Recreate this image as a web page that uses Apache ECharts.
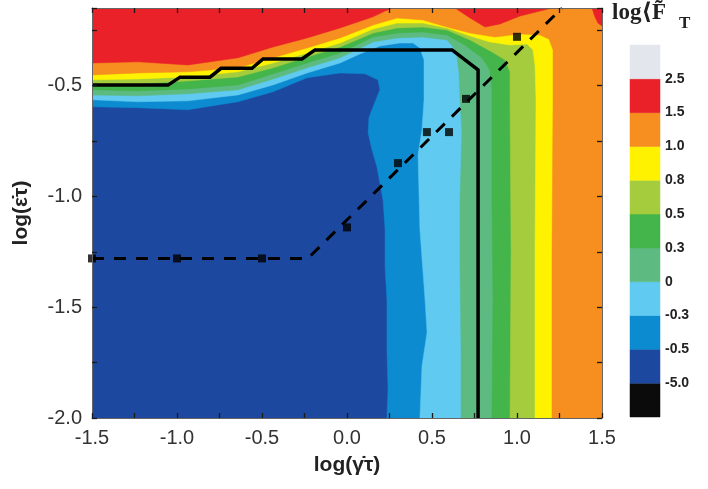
<!DOCTYPE html>
<html><head><meta charset="utf-8">
<script src="https://cdn.jsdelivr.net/npm/echarts@6/dist/echarts.min.js"></script>
<style>html,body{margin:0;padding:0;background:#fff}#c{width:708px;height:489px}</style>
</head><body><div id="c"></div>
<script>
// ---------- data ----------
const xRange = [-1.5, 1.5];
const yRange = [-2.0, -0.15];
const levelLabels = ['-5.0', '-0.5', '-0.3', '0', '0.3', '0.5', '0.8', '1.0', '1.5', '2.5'];

// contour boundaries, from left edge round to bottom edge
const contourM05 = [[-1.5,-0.596],[-1.229,-0.600],[-0.935,-0.609],[-0.641,-0.573],[-0.435,-0.528],[-0.235,-0.465],[-0.041,-0.443],[0.106,-0.447],[0.182,-0.474],[0.194,-0.519],[0.165,-0.573],[0.129,-0.645],[0.124,-0.713],[0.147,-0.790],[0.176,-0.866],[0.212,-1.015],[0.224,-1.15],[0.224,-1.317],[0.235,-1.465],[0.235,-1.69],[0.241,-1.87],[0.235,-2.0]];
const contourM03 = [[-1.5,-0.564],[-1.229,-0.573],[-0.935,-0.569],[-0.641,-0.542],[-0.435,-0.497],[-0.235,-0.443],[-0.041,-0.398],[0.076,-0.357],[0.194,-0.321],[0.312,-0.308],[0.388,-0.308],[0.429,-0.330],[0.453,-0.384],[0.453,-0.564],[0.441,-0.700],[0.418,-0.812],[0.429,-1.15],[0.459,-1.465],[0.471,-1.614],[0.441,-1.767],[0.429,-2.0]];
const contour0 = [[-1.5,-0.542],[-1.229,-0.546],[-0.935,-0.537],[-0.641,-0.519],[-0.435,-0.470],[-0.235,-0.420],[-0.041,-0.375],[0.153,-0.303],[0.294,-0.285],[0.447,-0.281],[0.588,-0.294],[0.624,-0.326],[0.647,-0.371],[0.659,-0.443],[0.665,-0.564],[0.676,-0.713],[0.665,-1.015],[0.665,-1.317],[0.671,-1.69],[0.671,-2.0]];
const contour03 = [[-1.5,-0.519],[-1.229,-0.524],[-0.935,-0.515],[-0.641,-0.497],[-0.435,-0.447],[-0.235,-0.398],[-0.041,-0.353],[0.153,-0.281],[0.294,-0.263],[0.447,-0.258],[0.588,-0.272],[0.694,-0.317],[0.794,-0.375],[0.841,-0.429],[0.853,-0.519],[0.853,-1.015],[0.859,-1.465],[0.853,-2.0]];
const contour05 = [[-1.5,-0.492],[-1.229,-0.492],[-0.935,-0.479],[-0.641,-0.461],[-0.435,-0.420],[-0.235,-0.371],[-0.041,-0.326],[0.153,-0.263],[0.294,-0.240],[0.447,-0.236],[0.588,-0.249],[0.724,-0.294],[0.853,-0.348],[0.929,-0.384],[0.959,-0.438],[0.959,-0.564],[0.965,-1.240],[0.959,-2.0]];
const contour08 = [[-1.5,-0.474],[-1.229,-0.470],[-0.935,-0.461],[-0.641,-0.438],[-0.435,-0.398],[-0.235,-0.353],[-0.041,-0.308],[0.153,-0.245],[0.294,-0.218],[0.447,-0.218],[0.588,-0.240],[0.724,-0.276],[0.841,-0.303],[0.959,-0.317],[1.059,-0.312],[1.094,-0.339],[1.106,-0.407],[1.112,-0.564],[1.106,-1.240],[1.106,-2.0]];
const contour10 = [[-1.5,-0.452],[-1.229,-0.443],[-0.935,-0.438],[-0.641,-0.420],[-0.435,-0.375],[-0.235,-0.330],[-0.041,-0.285],[0.153,-0.227],[0.294,-0.195],[0.447,-0.204],[0.588,-0.236],[0.724,-0.263],[0.871,-0.281],[1.018,-0.267],[1.135,-0.272],[1.188,-0.290],[1.212,-0.339],[1.212,-0.564],[1.206,-1.240],[1.206,-2.0]];
// level 1.5 regions (closed along the top edge)
const red15Left = [[-1.5,-0.398],[-1.229,-0.393],[-0.935,-0.407],[-0.641,-0.375],[-0.435,-0.326],[-0.235,-0.285],[-0.041,-0.240],[0.153,-0.190],[0.224,-0.164],[0.271,-0.15]];
const red15Mid = [[0.635,-0.15],[0.724,-0.195],[0.812,-0.236],[0.900,-0.222],[1.018,-0.186],[1.135,-0.164],[1.206,-0.15]];
const red15Corner = [[1.441,-0.15],[1.459,-0.191],[1.476,-0.218],[1.5,-0.231]];

// black solid boundary line
const solidLine = [[-1.5,-0.498],[-1.053,-0.498],[-0.982,-0.462],[-0.806,-0.462],[-0.741,-0.422],[-0.559,-0.422],[-0.494,-0.380],[-0.265,-0.380],[-0.188,-0.339],[0.618,-0.339],[0.771,-0.429],[0.771,-2.0]];
// dashed fit line
const dashedLine = [[-1.5,-1.28],[-0.23,-1.28],[1.265,-0.15]];
// square markers
const markerX = [-1.5, -1.0, -0.5, 0.0, 0.3, 0.47, 0.6, 0.7, 1.0];
const markerY = [-1.28, -1.28, -1.28, -1.14, -0.85, -0.71, -0.71, -0.56, -0.28];

// ---------- styles ----------
const C = {black:'#0b0b0b', darkblue:'#1c48a0', blue:'#0d8bd0', lightblue:'#60caf0', teal:'#5dba80',
  green:'#43b54b', ygreen:'#a5cc3c', yellow:'#fff200', orange:'#f68f1f', red:'#ea2129', grey:'#e3e7ed'};
const barColors = [C.black, C.darkblue, C.blue, C.lightblue, C.teal, C.green, C.ygreen, C.yellow, C.orange, C.red, C.grey];

const corner = [[xRange[1], yRange[0]], [xRange[1], yRange[1]], [xRange[0], yRange[1]]];
const closeBR = c => c.concat(corner);
const fills = [
  {pts: [[xRange[0], yRange[0]], [xRange[1], yRange[0]], [xRange[1], yRange[1]], [xRange[0], yRange[1]]], color: C.darkblue},
  {pts: closeBR(contourM05), color: C.blue},
  {pts: closeBR(contourM03), color: C.lightblue},
  {pts: closeBR(contour0), color: C.teal},
  {pts: closeBR(contour03), color: C.green},
  {pts: closeBR(contour05), color: C.ygreen},
  {pts: closeBR(contour08), color: C.yellow},
  {pts: closeBR(contour10), color: C.orange},
  {pts: red15Left.concat([[xRange[0], yRange[1]]]), color: C.red},
  {pts: red15Mid, color: C.red},
  {pts: red15Corner.concat([[xRange[1], yRange[1]]]), color: C.red}
];

const isHalf = v => Math.abs(v * 2 - Math.round(v * 2)) < 1e-6;
const fmt = v => isHalf(v) ? (Math.abs(v) < 1e-9 ? '0.0' : v.toFixed(1)) : '';
const labelFont = {fontFamily: '"Liberation Sans", Arial, sans-serif', fontSize: 20, color: '#333'};
const tick = {show: true, inside: true, length: 5, lineStyle: {color: '#1a1a1a', width: 1.3}};
const line = {show: true, onZero: false, lineStyle: {color: '#666', width: 1}};

const chart = echarts.init(document.getElementById('c'), null, {renderer: 'canvas'});
chart.setOption({
  animation: false,
  backgroundColor: '#fff',
  grid: [
    {left: 92, top: 8, width: 510, height: 410},
    {left: 630, top: 45, width: 30, height: 372}
  ],
  xAxis: [
    {gridIndex: 0, type: 'value', zlevel: 1, z: 10, min: xRange[0], max: xRange[1], interval: 0.25, position: 'bottom',
     axisLine: line, axisTick: tick, splitLine: {show: false},
     axisLabel: Object.assign({formatter: fmt, margin: 10}, labelFont),
     name: 'log(γ̇τ)', nameLocation: 'middle', nameGap: 37,
     nameTextStyle: {fontFamily: '"Liberation Sans", Arial, sans-serif', fontWeight: 'bold', fontSize: 21, color: '#222', verticalAlign: 'top'}},
    {gridIndex: 0, type: 'value', zlevel: 1, z: 10, min: xRange[0], max: xRange[1], interval: 0.25, position: 'top',
     axisLine: line, axisTick: tick, splitLine: {show: false}, axisLabel: {show: false}},
    {gridIndex: 1, type: 'value', min: 0, max: 1, show: false}
  ],
  yAxis: [
    {gridIndex: 0, type: 'value', zlevel: 1, z: 10, min: yRange[0], max: yRange[1], interval: 0.25, position: 'left',
     axisLine: line, axisTick: tick, splitLine: {show: false},
     axisLabel: Object.assign({formatter: fmt, margin: 10}, labelFont),
     name: 'log(ε̇τ)', nameLocation: 'middle', nameGap: 60, nameRotate: 90,
     nameTextStyle: {fontFamily: '"Liberation Sans", Arial, sans-serif', fontWeight: 'bold', fontSize: 21, color: '#222'}},
    {gridIndex: 0, type: 'value', zlevel: 1, z: 10, min: yRange[0], max: yRange[1], interval: 0.25, position: 'right',
     axisLine: line, axisTick: tick, splitLine: {show: false}, axisLabel: {show: false}},
    {gridIndex: 1, type: 'value', min: 0, max: 11, interval: 1, position: 'right',
     axisLine: {show: false, onZero: false}, axisTick: {show: false}, splitLine: {show: false},
     axisLabel: {margin: 5, fontFamily: '"Liberation Sans", Arial, sans-serif', fontWeight: 'bold', fontSize: 14, color: '#222',
       verticalAlign: 'middle', padding: [6, 0, 0, 0],
       formatter: v => (v >= 1 && v <= levelLabels.length) ? levelLabels[Math.round(v) - 1] : ''}}
  ],
  graphic: [
    {type: 'text', left: 612, top: 2, silent: true,
     style: {text: 'log⟨F̃', font: 'bold 23px "Liberation Serif", "DejaVu Serif", serif', fill: '#222'}},
    {type: 'text', left: 679, top: 15, silent: true,
     style: {text: 'T', font: 'bold 17px "Liberation Serif", "DejaVu Serif", serif', fill: '#222'}}
  ],
  series: [
    {type: 'custom', xAxisIndex: 0, yAxisIndex: 0, silent: true, clip: true, z: 1,
     data: fills.map(() => [0, -1]),
     renderItem: (params, api) => {
       const f = fills[params.dataIndex];
       return {type: 'polygon', shape: {points: f.pts.map(p => api.coord(p))}, style: {fill: f.color, stroke: f.color, lineWidth: 0.5}};
     }},
    {type: 'line', xAxisIndex: 0, yAxisIndex: 0, data: solidLine, symbol: 'none', silent: true, z: 3,
     lineStyle: {color: '#000', width: 3.5, cap: 'butt', join: 'miter'}},
    {type: 'line', xAxisIndex: 0, yAxisIndex: 0, data: dashedLine, symbol: 'none', silent: true, z: 3,
     lineStyle: {color: '#000', width: 3, type: [12, 10], cap: 'butt'}},
    {type: 'scatter', xAxisIndex: 0, yAxisIndex: 0, symbol: 'rect', symbolSize: 8, silent: true, z: 4,
     itemStyle: {color: '#000'}, data: markerX.map((x, i) => [x, markerY[i]])},
    {type: 'custom', xAxisIndex: 2, yAxisIndex: 2, silent: true,
     data: barColors.map((c, i) => [0.5, i + 0.5]),
     renderItem: (params, api) => {
       const i = params.dataIndex;
       const p0 = api.coord([0, i]);
       const p1 = api.coord([1, i + 1]);
       return {type: 'rect', shape: {x: p0[0], y: p1[1], width: p1[0] - p0[0], height: p0[1] - p1[1]},
               style: {fill: barColors[i], stroke: barColors[i], lineWidth: 0.5}};
     }}
  ]
});
</script></body></html>
